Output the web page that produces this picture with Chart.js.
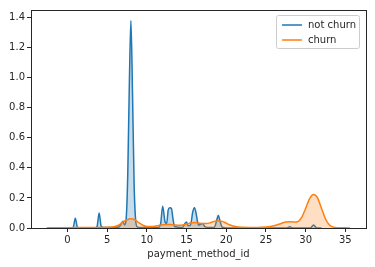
<!DOCTYPE html>
<html>
<head>
<meta charset="utf-8">
<script src="https://cdn.jsdelivr.net/npm/chart.js@4/dist/chart.umd.min.js"></script>
<style>
  html, body { margin: 0; padding: 0; background: #fff; }
  #wrap { width: 375px; height: 267px; }
</style>
</head>
<body>
<div id="wrap"><canvas id="kde"></canvas></div>
<script>
// 値は画像から読み取ったもの
const seriesNames = ["not churn", "churn"];

const notChurnX = [0.5, 0.75, 1, 1.25, 1.5, 3.5, 3.75, 4, 4.25, 4.5, 5, 6, 6.5, 6.8, 7, 7.2, 7.4, 7.6, 7.8, 8, 8.2, 8.4, 8.6, 8.8, 9.2,
  11.5, 11.75, 12, 12.3, 12.5, 12.7, 12.9, 13.1, 13.3, 13.5, 14.5, 14.8, 15, 15.2, 15.5, 15.8, 16, 16.2, 16.5, 16.8, 17, 17.3, 17.6,
  18.5, 18.8, 19, 19.2, 19.5, 20, 27.6, 28, 28.4, 30.6, 31, 31.4, 32];
const notChurnY = [0, 0.006, 0.065, 0.006, 0, 0, 0.012, 0.10, 0.012, 0.004, 0.004, 0.004, 0.006, 0.03, 0.045, 0.02, 0.06, 0.35, 0.95, 1.38, 0.9, 0.3, 0.05, 0.008, 0.004,
  0.004, 0.03, 0.145, 0.04, 0.03, 0.12, 0.135, 0.13, 0.06, 0.01, 0.004, 0.03, 0.04, 0.015, 0.02, 0.11, 0.135, 0.1, 0.02, 0.025, 0.03, 0.01, 0.004,
  0.004, 0.05, 0.085, 0.05, 0.005, 0, 0, 0.008, 0, 0, 0.02, 0, 0];

const churnX = [-2.6, -1, 0, 2, 4, 5, 6, 6.5, 7, 7.5, 8, 8.5, 9, 9.5, 10, 10.5, 11, 11.5, 12, 12.5, 13, 13.5, 14, 14.5, 15, 15.5, 16, 16.5,
  17, 17.5, 18, 18.5, 19, 19.5, 20, 20.5, 21, 22, 23, 24, 25, 26, 27, 27.5, 28, 28.5, 29, 29.5, 30, 30.5, 31, 31.5, 32, 32.5, 33, 33.5, 34, 35, 35.6];
const churnY = [0.002, 0.002, 0.002, 0.003, 0.004, 0.005, 0.01, 0.02, 0.04, 0.055, 0.062, 0.055, 0.035, 0.018, 0.01, 0.01, 0.012, 0.017, 0.022, 0.024, 0.023, 0.02, 0.018, 0.02, 0.026, 0.033, 0.036, 0.034,
  0.03, 0.03, 0.035, 0.044, 0.049, 0.044, 0.032, 0.02, 0.012, 0.005, 0.004, 0.004, 0.007, 0.015, 0.032, 0.04, 0.042, 0.04, 0.042, 0.07, 0.13, 0.195, 0.222, 0.2, 0.13, 0.06, 0.02, 0.006, 0.002, 0.001, 0];

const xTicks = [0, 5, 10, 15, 20, 25, 30, 35];
const yTicks = [0, 0.2, 0.4, 0.6, 0.8, 1.0, 1.2, 1.4];

const toPoints = (xs, ys) => xs.map((x, i) => ({ x: x, y: ys[i] }));

// 枠線と凡例を描くプラグイン
const frameLegend = {
  id: "frameLegend",
  afterDraw(chart) {
    const ctx = chart.ctx;
    const a = chart.chartArea;
    ctx.save();
    ctx.strokeStyle = "#262626";
    ctx.lineWidth = 1;
    ctx.strokeRect(Math.round(a.left) + 0.5, Math.round(a.top) + 0.5, Math.round(a.right - a.left), Math.round(a.bottom - a.top));

    // 凡例
    ctx.fillStyle = "rgba(255,255,255,0.8)";
    ctx.strokeStyle = "#cccccc";
    ctx.beginPath();
    ctx.roundRect(276.5, 15.5, 83, 33, 2);
    ctx.fill();
    ctx.stroke();
    const colors = ["#1f77b4", "#ff7f0e"];
    ctx.font = "10px 'DejaVu Sans'";
    ctx.textBaseline = "middle";
    seriesNames.forEach((name, i) => {
      const y = 25 + i * 15;
      ctx.strokeStyle = colors[i];
      ctx.lineWidth = 1.5;
      ctx.beginPath();
      ctx.moveTo(282, y);
      ctx.lineTo(302, y);
      ctx.stroke();
      ctx.fillStyle = "#262626";
      ctx.fillText(name, 308, y);
    });
    ctx.restore();
  }
};

new Chart(document.getElementById("kde"), {
  type: "line",
  data: {
    datasets: [
      {
        label: seriesNames[0],
        data: toPoints(notChurnX, notChurnY),
        borderColor: "#1f77b4",
        backgroundColor: "rgba(31,119,180,0.25)",
        borderWidth: 1.5,
        fill: "origin",
        pointRadius: 0,
        cubicInterpolationMode: "monotone",
        order: 1
      },
      {
        label: seriesNames[1],
        data: toPoints(churnX, churnY),
        borderColor: "#ff7f0e",
        backgroundColor: "rgba(255,127,14,0.25)",
        borderWidth: 1.5,
        fill: "origin",
        pointRadius: 0,
        cubicInterpolationMode: "monotone",
        order: 0
      }
    ]
  },
  options: {
    responsive: true,
    maintainAspectRatio: false,
    animation: false,
    layout: { padding: { left: 0, right: 9, top: 10, bottom: 0 } },
    plugins: {
      legend: { display: false },
      tooltip: { enabled: false }
    },
    scales: {
      x: {
        type: "linear",
        min: -4.58,
        max: 37.6,
        afterBuildTicks: (scale) => { scale.ticks = xTicks.map(v => ({ value: v })); },
        afterFit: (scale) => { scale.height = 39; },
        grid: { drawOnChartArea: false, drawTicks: true, tickLength: 4, color: "#262626" },
        border: { display: true, color: "#262626" },
        ticks: { color: "#262626", font: { family: "DejaVu Sans", size: 10 }, padding: 2, maxRotation: 0 },
        title: { display: true, text: "payment_method_id", color: "#262626", font: { family: "DejaVu Sans", size: 10 }, padding: { top: 2, bottom: 7 } }
      },
      y: {
        min: 0,
        max: 1.449,
        afterBuildTicks: (scale) => { scale.ticks = yTicks.map(v => ({ value: v })); },
        afterFit: (scale) => { scale.width = 31; },
        grid: { drawOnChartArea: false, drawTicks: true, tickLength: 4, color: "#262626" },
        border: { display: true, color: "#262626" },
        ticks: { color: "#262626", font: { family: "DejaVu Sans", size: 10 }, padding: 2, callback: (v) => v.toFixed(1) }
      }
    }
  },
  plugins: [frameLegend]
});
</script>
</body>
</html>
